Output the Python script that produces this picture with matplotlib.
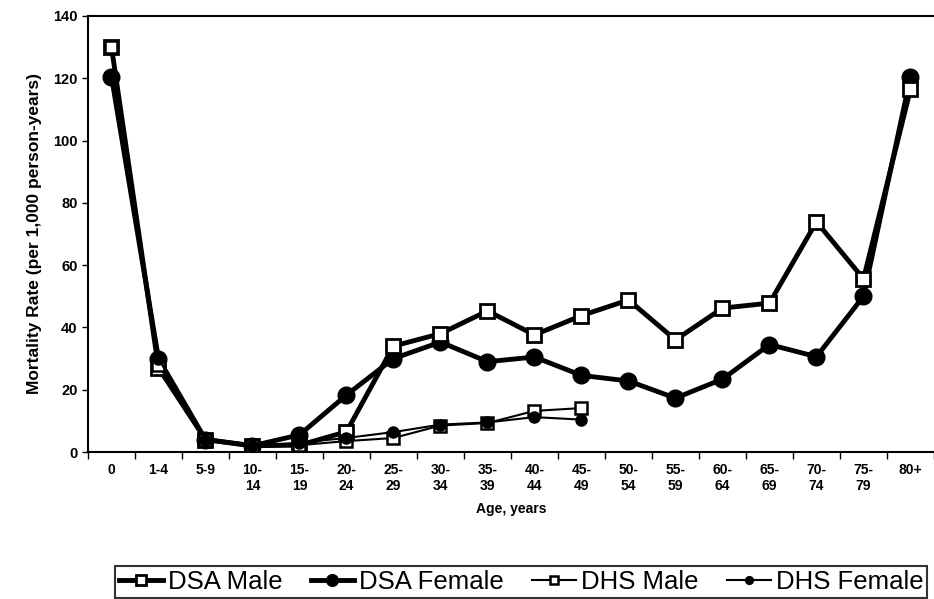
import numpy as np
import matplotlib.pyplot as plt

# age groups
ages = ['0', '1-4', '5-9', '10-\n14', '15-\n19', '20-\n24', '25-\n29', '30-\n34', '35-\n39',
        '40-\n44', '45-\n49', '50-\n54', '55-\n59', '60-\n64', '65-\n69', '70-\n74', '75-\n79', '80+']

# mortality rates per 1,000 person-years
dsa_male = [130, 27, 4, 2, 2.2, 6.5, 34, 38, 45.3, 37.6, 43.8, 48.8, 36, 46.2, 47.8, 73.9, 55.6, 116.5]
dsa_female = [120.5, 30, 4, 2, 5.5, 18.3, 30, 35.3, 29, 30.5, 24.6, 22.8, 17.3, 23.4, 34.5, 30.6, 50, 120.5]
dhs_male = [130, 28, 4, 2, 2.2, 3.5, 4.5, 8.5, 9.3, 13.2, 14.1]
dhs_female = [121, 30, 4, 2, 3, 4.5, 6.4, 8.8, 9.5, 11.2, 10.4]

plt.rcParams['font.family'] = ['Liberation Sans', 'DejaVu Sans']

fig = plt.figure(figsize=(9.34, 5.99), dpi=100)
ax = fig.add_axes([0.0942, 0.2454, 0.9058, 0.728])

x = np.arange(len(ages))
ax.plot(x, dsa_male, color='black', lw=3.5, marker='s', ms=10, mfc='white', mec='black', mew=2,
        label='DSA Male', zorder=3)
ax.plot(x, dsa_female, color='black', lw=3.5, marker='o', ms=12, mfc='black', mec='black',
        label='DSA Female', zorder=2)
ax.plot(x[:len(dhs_male)], dhs_male, color='black', lw=1.5, marker='s', ms=9, mfc='white',
        mec='black', mew=1.8, label='DHS Male', zorder=4)
ax.plot(x[:len(dhs_female)], dhs_female, color='black', lw=1.5, marker='o', ms=8, mfc='black',
        mec='black', label='DHS Female', zorder=4)

ax.set_xlim(-0.5, len(ages) - 0.5)
ax.set_ylim(0, 140)
ax.set_yticks(np.arange(0, 141, 20))
ax.set_xticks(np.arange(-0.5, len(ages), 1.0))
ax.set_xticklabels([])
ax.set_xticks(x, minor=True)
ax.set_xticklabels(ages, minor=True, fontweight='bold', fontsize=10)
ax.tick_params(axis='x', which='minor', length=0, pad=8)
ax.tick_params(axis='x', which='major', length=5, width=1)
ax.tick_params(axis='y', length=4, width=1, labelsize=10.5)
for lab in ax.get_yticklabels():
    lab.set_fontweight('bold')
for s in ax.spines.values():
    s.set_linewidth(1.5)
ax.spines['right'].set_visible(False)

ax.set_ylabel('Mortality Rate (per 1,000 person-years)', fontweight='bold', fontsize=12.5, labelpad=8)
ax.set_xlabel('Age, years', fontweight='bold', fontsize=10, labelpad=6)

leg = fig.legend(loc='center', bbox_to_anchor=(0.558, 0.028), ncol=4, frameon=True, fancybox=False,
                 edgecolor='black', handlelength=1.7, handletextpad=0.2,
                 columnspacing=1.1, borderpad=0.15, markerscale=0.7,
                 prop={'family': ['Liberation Sans'], 'size': 18.5})
leg.get_frame().set_linewidth(1.5)

fig.savefig('out.png', dpi=100)
